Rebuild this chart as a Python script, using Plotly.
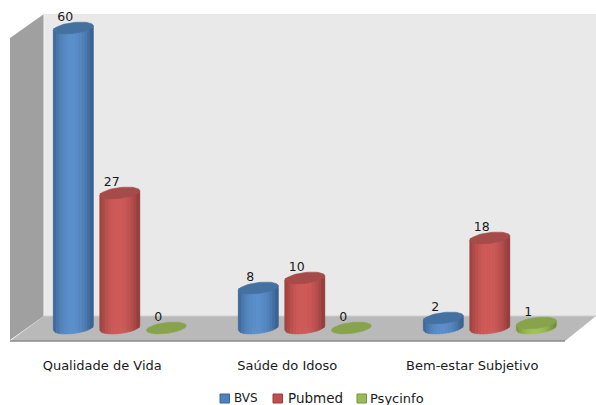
import numpy as np
import plotly.graph_objects as go

CATEGORIES = ["Qualidade de Vida", "Saúde do Idoso", "Bem-estar Subjetivo"]
BVS = [60, 8, 2]
PUBMED = [27, 10, 18]
PSYCINFO = [0, 0, 1]
SERIES = ["BVS", "Pubmed", "Psycinfo"]

W, H, MB = 596, 405, 60
PH = H - MB
PX_PER_UNIT = 5.0
Y0_PX = 328.0
GROUP_PX = 185.0
X0_PX = 119.8
BAR_STEP = 46.5 / GROUP_PX
BAR_W = 40.0 / GROUP_PX
CAP_B = 5.5 / PX_PER_UNIT
CAP_T = 2.3 / PX_PER_UNIT

PALETTE = {
    "BVS": dict(mid=(92, 144, 204), edge=(58, 96, 142), cap="#44719f", line="#3a6390", swatch="#4f81bd"),
    "Pubmed": dict(mid=(208, 92, 90), edge=(146, 62, 60), cap="#a54c4a", line="#94413f", swatch="#c0504d"),
    "Psycinfo": dict(mid=(160, 195, 85), edge=(112, 140, 60), cap="#87a44d", line="#76923f", swatch="#9bbb59"),
}
VALUES = dict(zip(SERIES, [BVS, PUBMED, PSYCINFO]))
LEGEND_SWATCH_X = [220, 273, 357]
LEGEND_TEXT_X = [232.5, 287, 369]
LEGEND_FONT = [12, 13.5, 13]


def rx(px):
    return px / W


def ry(px):
    return 1 - px / PH


def poly(points):
    return "M" + "L".join(f"{rx(a):.4f},{ry(b):.4f}" for a, b in points) + "Z"


WALLS = [
    ([(44, 14), (596, 14), (596, 316), (44, 316)], "#e9e9e9"),
    ([(10, 38), (44, 14), (44, 316), (10, 340)], "#a0a0a0"),
    ([(44, 316), (596, 316), (565, 341), (10, 341)], "#b9b9b9"),
]

fig = go.Figure()

for i, name in enumerate(SERIES):
    fig.add_trace(go.Bar(
        name=name, x=list(range(3)), y=VALUES[name],
        marker=dict(color=f"rgb{PALETTE[name]['mid']}", line=dict(width=0)),
        hoverinfo="skip", showlegend=False,
    ))

LEVELS = 14
edges = np.linspace(-1, 1, LEVELS + 1)
for i, name in enumerate(SERIES):
    pal = PALETTE[name]
    offset = (i - 1) * BAR_STEP
    for k in range(LEVELS):
        u0, u1 = edges[k], edges[k + 1]
        um = (u0 + u1) / 2
        mix = min(1.0, abs(um + 0.05) ** 2.0)
        col = tuple(int(pal["mid"][c] * (1 - mix) + pal["edge"][c] * mix) for c in range(3))
        xs, ys = [], []
        for g, v in enumerate(VALUES[name]):
            if v == 0:
                continue
            cx = g + offset
            us = np.linspace(u0, u1, 4)
            bx = cx + us * BAR_W / 2
            by = -CAP_B * np.sqrt(np.clip(1 - us ** 2, 0, 1)) + CAP_T * us
            tx = bx[::-1]
            ty = v + CAP_T * us[::-1]
            xs += list(bx) + list(tx) + [bx[0], None]
            ys += list(by) + list(ty) + [by[0], None]
        fig.add_trace(go.Scatter(
            x=xs, y=ys, mode="lines", fill="toself", fillcolor=f"rgb{col}",
            line=dict(color=f"rgb{col}", width=0.6), showlegend=False, hoverinfo="skip",
        ))

t = np.linspace(0, 2 * np.pi, 60)
for i, name in enumerate(SERIES):
    offset = (i - 1) * BAR_STEP
    xs, ys = [], []
    for g, v in enumerate(VALUES[name]):
        xs += list(g + offset + np.cos(t) * BAR_W / 2) + [None]
        ys += list(v + CAP_B * np.sin(t) + CAP_T * np.cos(t)) + [None]
    fig.add_trace(go.Scatter(
        x=xs, y=ys, mode="lines", fill="toself", fillcolor=PALETTE[name]["cap"],
        line=dict(color=PALETTE[name]["cap"], width=0.5), showlegend=False, hoverinfo="skip",
    ))
    fig.add_trace(go.Scatter(
        x=[g + offset - 8 / GROUP_PX for g in range(3)],
        y=[v + 10 / PX_PER_UNIT for v in VALUES[name]],
        mode="text", text=[str(v) for v in VALUES[name]],
        textposition="middle center",
        textfont=dict(family="DejaVu Sans", size=12.5, color="#1a1a1a"),
        showlegend=False, hoverinfo="skip",
    ))

shapes = [dict(type="path", path=poly(p), xref="paper", yref="paper",
               fillcolor=c, line=dict(width=0), layer="below") for p, c in WALLS]
shapes += [
    dict(type="line", xref="paper", yref="paper", x0=rx(10), y0=ry(341), x1=rx(565), y1=ry(341),
         line=dict(color="#8c8c8c", width=1.5), layer="below"),
    dict(type="line", xref="paper", yref="paper", x0=rx(44), y0=ry(14), x1=rx(44), y1=ry(316),
         line=dict(color="#f4f4f4", width=1), layer="below"),
    dict(type="line", xref="paper", yref="paper", x0=rx(44), y0=ry(316), x1=rx(596), y1=ry(316),
         line=dict(color="#cfcfcf", width=1), layer="below"),
]
annotations = []
for i, name in enumerate(SERIES):
    sx = LEGEND_SWATCH_X[i]
    shapes.append(dict(type="rect", xref="paper", yref="paper",
                       x0=rx(sx), x1=rx(sx + 9.5), y0=ry(403), y1=ry(394),
                       fillcolor=PALETTE[name]["swatch"],
                       line=dict(color=PALETTE[name]["line"], width=1)))
    annotations.append(dict(text=name, xref="paper", yref="paper",
                            x=rx(LEGEND_TEXT_X[i]), y=ry(398), xanchor="left", yanchor="middle",
                            showarrow=False, borderpad=0,
                            font=dict(family="DejaVu Sans", size=LEGEND_FONT[i], color="#1a1a1a")))

fig.update_layout(
    width=W, height=H, margin=dict(l=0, r=0, t=0, b=MB),
    paper_bgcolor="white", plot_bgcolor="rgba(0,0,0,0)",
    barmode="group", bargap=1 - 3 * BAR_STEP, bargroupgap=1 - BAR_W / BAR_STEP,
    shapes=shapes, annotations=annotations, showlegend=False,
    xaxis=dict(range=[-X0_PX / GROUP_PX, (W - X0_PX) / GROUP_PX],
               tickmode="array", tickvals=[g - 0.095 for g in range(3)], ticktext=CATEGORIES,
               showgrid=False, zeroline=False, showline=False, ticks="", ticklabelstandoff=11,
               tickfont=dict(family="DejaVu Sans", size=13, color="#1a1a1a"), fixedrange=True),
    yaxis=dict(range=[(Y0_PX - PH) / PX_PER_UNIT, Y0_PX / PX_PER_UNIT],
               showgrid=False, zeroline=False, showline=False, showticklabels=False,
               ticks="", fixedrange=True),
)

fig.write_html("out.html", config={"displayModeBar": False},
               post_script="document.body.style.margin='0';")
